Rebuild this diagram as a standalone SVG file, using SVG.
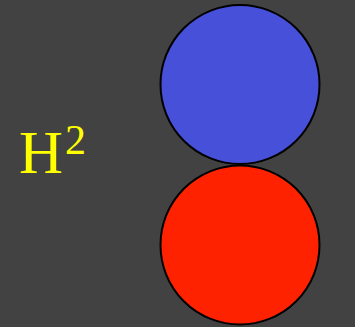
<svg xmlns="http://www.w3.org/2000/svg" width="355" height="327" viewBox="0 0 355 327">
<style>
.c{stroke:#000;stroke-width:2}
.t{font-family:"Liberation Serif",serif;fill:#ffff00}
</style>
<rect width="355" height="327" fill="#424242"/>
<g id="blue"><circle class="c" cx="240" cy="84.5" r="79.5" fill="#4650d8"/></g>
<g id="red"><circle class="c" cx="240" cy="245" r="79.5" fill="#ff2200"/></g>
<g id="label"><text class="t" x="19" y="173" font-size="61">H<tspan font-size="42" dx="2" dy="-19">2</tspan></text></g>
</svg>
